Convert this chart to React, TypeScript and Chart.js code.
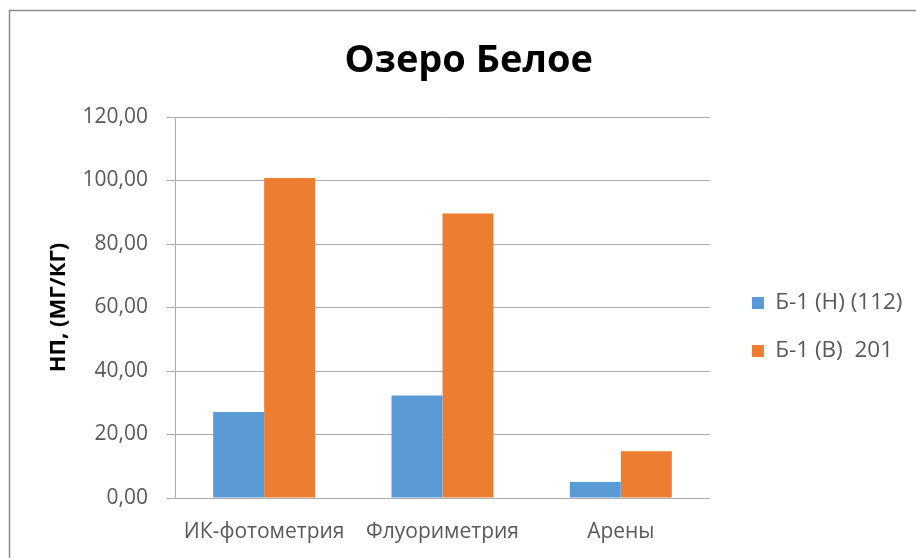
import { useEffect, useRef } from "react";
import { Chart, registerables } from "chart.js";

Chart.register(...registerables);

// Chart content
const chartTitle = "Озеро Белое";
const axisTitle = "НП, (МГ/КГ)";
const methods = ["ИК-фотометрия", "Флуориметрия", "Арены"];
const seriesNames = ["Б-1 (Н) (112)", "Б-1 (В)  201"];
const sampleLower = [27.1, 32.3, 5.05];
const sampleUpper = [100.8, 89.6, 14.7];
const yMin = 0;
const yMax = 120;
const yStep = 20;

const seriesColors = ["#5B9BD5", "#ED7D31"];

const WIDTH = 916;
const HEIGHT = 558;
const FONT = '"Open Sans", "Noto Sans", sans-serif';
const GRID = "#ababab";

// Legend offset from its default slot (px)
const LEGEND_DX = 16.5;
const LEGEND_DY = 48;

const framePlugin = {
  id: "frame",
  beforeDraw(chart: any) {
    const { ctx, width, height } = chart;
    ctx.save();
    ctx.fillStyle = "#ffffff";
    ctx.fillRect(0, 0, width, height);
    ctx.strokeStyle = "#8c8c8c";
    ctx.lineWidth = 1.5;
    ctx.beginPath();
    ctx.moveTo(9.5, height);
    ctx.lineTo(9.5, 10.5);
    ctx.lineTo(width, 10.5);
    ctx.stroke();
    ctx.restore();
  },
};

const legendNudge = {
  id: "legendNudge",
  afterLayout(chart: any) {
    const lg = chart.legend;
    if (!lg) return;
    lg.left += LEGEND_DX;
    lg.right += LEGEND_DX;
    lg.top += LEGEND_DY;
    lg.bottom += LEGEND_DY;
  },
};

function formatTick(v: number | string) {
  return Number(v).toFixed(2).replace(".", ",");
}

export default function App() {
  const canvasRef = useRef<HTMLCanvasElement | null>(null);

  useEffect(() => {
    const canvas = canvasRef.current;
    if (!canvas) return;
    const chart = new Chart(canvas, {
      type: "bar",
      data: {
        labels: methods,
        datasets: [
          {
            label: seriesNames[0],
            data: sampleLower,
            backgroundColor: seriesColors[0],
            borderWidth: 0,
          },
          {
            label: seriesNames[1],
            data: sampleUpper,
            backgroundColor: seriesColors[1],
            borderWidth: 0,
          },
        ],
      },
      options: {
        responsive: false,
        maintainAspectRatio: false,
        devicePixelRatio: 1,
        animation: false,
        datasets: {
          bar: { categoryPercentage: 0.572, barPercentage: 1 },
        },
        layout: { padding: { left: 41.5, right: 20, top: 0, bottom: 0 } },
        plugins: {
          tooltip: { enabled: false },
          title: {
            display: true,
            text: chartTitle,
            color: "#000000",
            font: { family: FONT, size: 38, weight: "bold" },
            padding: { top: 38, bottom: 33.4 },
          },
          legend: {
            display: true,
            position: "right",
            align: "center",
            labels: {
              boxWidth: 12,
              boxHeight: 12,
              padding: 25.5,
              color: "#595959",
              font: { family: FONT, size: 22.5 },
            },
          },
        },
        scales: {
          x: {
            grid: { display: false, drawTicks: false },
            border: { display: true, color: GRID, width: 1 },
            ticks: {
              color: "#595959",
              font: { family: FONT, size: 21 },
              padding: 21.4,
              maxRotation: 0,
              autoSkip: false,
            },
            afterFit(scale: any) {
              scale.height = 60;
            },
          },
          y: {
            min: yMin,
            max: yMax,
            grid: {
              color: GRID,
              lineWidth: 1,
              drawTicks: true,
              tickLength: 8,
            },
            border: { display: true, color: GRID, width: 1 },
            ticks: {
              stepSize: yStep,
              color: "#595959",
              font: { family: FONT, size: 21 },
              padding: 19,
              callback: (v: number | string) => formatTick(v),
            },
            title: {
              display: true,
              text: axisTitle,
              color: "#000000",
              font: { family: FONT, size: 22, weight: "bold" },
              padding: { top: 3.8, bottom: 0 },
            },
            afterFit(scale: any) {
              scale.width = 133.5;
            },
          },
        },
      },
      plugins: [framePlugin, legendNudge],
    });
    return () => chart.destroy();
  }, []);

  return (
    <div
      style={{
        position: "fixed",
        left: 0,
        top: 0,
        width: WIDTH,
        height: HEIGHT,
        overflow: "hidden",
        background: "#ffffff",
      }}
    >
      <canvas
        ref={canvasRef}
        width={WIDTH}
        height={HEIGHT}
        style={{ display: "block", width: WIDTH, height: HEIGHT }}
      />
    </div>
  );
}
